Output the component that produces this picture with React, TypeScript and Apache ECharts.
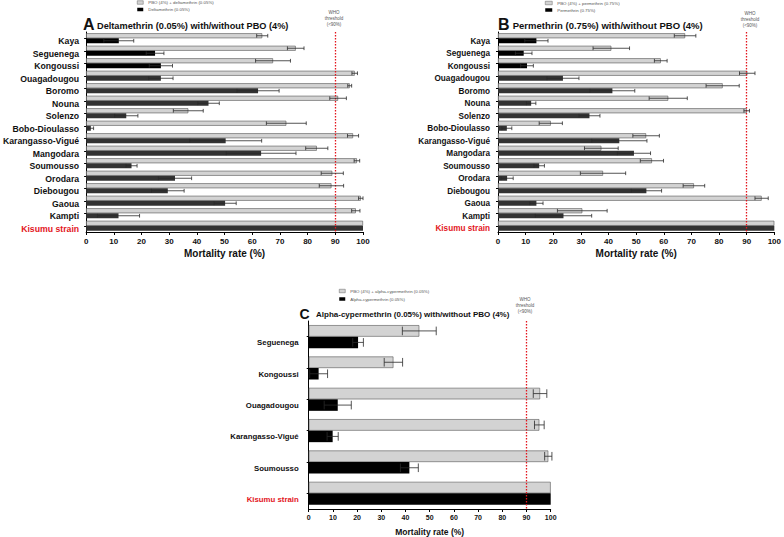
import React, { useEffect, useRef } from 'react';
import * as echarts from 'echarts';

const sitesAB = ['Kaya', 'Seguenega', 'Kongoussi', 'Ouagadougou', 'Boromo', 'Nouna', 'Solenzo', 'Bobo-Dioulasso', 'Karangasso-Vigué', 'Mangodara', 'Soumousso', 'Orodara', 'Diebougou', 'Gaoua', 'Kampti', 'Kisumu strain'];
const sitesC = ['Seguenega', 'Kongoussi', 'Ouagadougou', 'Karangasso-Vigué', 'Soumousso', 'Kisumu strain'];

const pboDelta = [63.6, 75.7, 67.5, 97, 95.2, 91, 36.9, 72.3, 96.4, 83.3, 97.8, 88.9, 88.6, 99.2, 97.4, 100];
const pboDeltaErr = [2, 3, 6.3, 1, 0.7, 3, 5.4, 7.2, 2, 4, 1, 4, 4.4, 0.8, 1.5, 0];
const delta = [11.8, 24.9, 27, 27, 62.1, 44.2, 14.5, 1.7, 50.4, 63.2, 16.4, 32.1, 29.5, 50.2, 11.7, 100];
const deltaErr = [5.4, 3.2, 4.2, 4.4, 7.6, 3.9, 4.2, 1, 13, 12.6, 2, 6, 5.9, 4, 7.6, 0];

const pboPerm = [67.7, 41, 58.9, 90.2, 81.3, 61.6, 90, 19.1, 53.6, 37.4, 55.7, 38, 70.9, 95.4, 30.5, 100];
const pboPermErr = [3.9, 6.6, 2.3, 2.8, 6, 6.9, 1, 4.2, 4.8, 6.1, 4.2, 8.2, 3.9, 2.4, 9, 0];
const perm = [13.9, 9.3, 10.5, 23.5, 41.4, 12, 33.1, 3.2, 43.9, 49.2, 14.9, 3.3, 53.7, 13.9, 23.7, 100];
const permErr = [4.2, 3, 2.3, 5.8, 8.1, 1.7, 3.8, 1.8, 10, 6, 1.9, 2.2, 5.5, 2.4, 10.2, 0];

const pboAlpha = [45.7, 35, 95.6, 95.3, 99, 100];
const pboAlphaErr = [7, 3.8, 2.8, 2, 1.5, 0];
const alpha = [20.4, 4.1, 12, 9.9, 41.6, 100];
const alphaErr = [2.2, 3.7, 5.6, 2.3, 3.7, 0];

const xTicks = { min: 0, max: 100, interval: 10 };
const WHO_THRESHOLD = 90;

const FONT = 'Liberation Sans, Arial, sans-serif';
const GRAY = '#d3d3d3';
const SOLID_BLACK = new Set(['Kaya', 'Seguenega', 'Kongoussi']);

function errRenderer(sign: number, barW: number) {
  return (params: any, api: any) => {
    const v = api.value(0);
    const idx = api.value(1);
    const e = api.value(2);
    if (!e) return null;
    const lo = Math.max(0, v - e);
    const hi = v + e;
    const c0 = api.coord([lo, idx]);
    const c1 = api.coord([hi, idx]);
    const y = c0[1] + (sign * barW) / 2;
    const h = (barW * 0.75) / 2;
    const st = { stroke: '#2a2a2a', lineWidth: 0.8 };
    const children: any[] = [
      { type: 'line', shape: { x1: c0[0], y1: y, x2: c1[0], y2: y }, style: st },
      { type: 'line', shape: { x1: c1[0], y1: y - h, x2: c1[0], y2: y + h }, style: st },
    ];
    if (v - e > 0) children.push({ type: 'line', shape: { x1: c0[0], y1: y - h, x2: c0[0], y2: y + h }, style: st });
    return { type: 'group', children };
  };
}

function panel(
  gi: number,
  sites: string[],
  gray: number[],
  grayErr: number[],
  dark: number[],
  darkErr: number[],
  grayName: string,
  darkName: string,
  barW: number,
  solidAll: boolean
) {
  const series: any[] = [
    {
      type: 'bar',
      name: grayName,
      xAxisIndex: gi,
      yAxisIndex: gi,
      data: gray,
      barWidth: barW,
      barGap: '0%',
      itemStyle: { color: GRAY, borderColor: '#555', borderWidth: 0.6 },
      markLine: {
        silent: true,
        symbol: 'none',
        label: { show: false },
        lineStyle: { color: '#e3151c', type: [1.4, 1.6], width: 1.3 },
        data: [{ xAxis: WHO_THRESHOLD }],
      },
    },
    {
      type: 'bar',
      name: darkName,
      xAxisIndex: gi,
      yAxisIndex: gi,
      data: dark.map((v, i) => ({
        value: v,
        itemStyle: { color: solidAll || SOLID_BLACK.has(sites[i]) ? '#000' : '#333' },
      })),
      barWidth: barW,
      barGap: '0%',
      itemStyle: { color: '#000' },
    },
    {
      type: 'custom',
      xAxisIndex: gi,
      yAxisIndex: gi,
      z: 5,
      encode: { x: 0, y: 1 },
      data: gray.map((v, i) => [v, i, grayErr[i]]),
      renderItem: errRenderer(-1, barW),
    },
    {
      type: 'custom',
      xAxisIndex: gi,
      yAxisIndex: gi,
      z: 5,
      encode: { x: 0, y: 1 },
      data: dark.map((v, i) => [v, i, darkErr[i]]),
      renderItem: errRenderer(1, barW),
    },
  ];
  return series;
}

function xAxis(gi: number, labelSize: number, nameSize: number, nameGap: number) {
  return {
    type: 'value',
    gridIndex: gi,
    ...xTicks,
    name: 'Mortality rate (%)',
    nameLocation: 'middle',
    nameGap,
    nameTextStyle: { fontSize: nameSize, fontWeight: 'bold', color: '#111', fontFamily: FONT },
    axisLine: { show: true, lineStyle: { color: '#000', width: 1 } },
    axisTick: { show: true, length: 3, lineStyle: { color: '#000' } },
    axisLabel: { fontSize: labelSize, fontWeight: 'bold', color: '#111', fontFamily: FONT, margin: 5 },
    splitLine: { show: false },
  };
}

function yAxis(gi: number, sites: string[], fontSize: number, margin: number, shift: number) {
  return {
    type: 'category',
    gridIndex: gi,
    data: sites,
    inverse: true,
    axisLine: { show: true, lineStyle: { color: '#000', width: 1 } },
    axisTick: { show: true, alignWithLabel: true, length: 2, lineStyle: { color: '#000' } },
    axisLabel: {
      fontSize,
      fontWeight: 'bold',
      fontFamily: FONT,
      margin,
      interval: 0,
      verticalAlign: 'top',
      lineHeight: shift * 2,
      color: (v: string) => (v === 'Kisumu strain' ? '#e3151c' : '#111'),
    },
  };
}

function txt(x: number, y: number, text: string, fontSize: number, bold: boolean, align: string, color = '#111') {
  return {
    type: 'text',
    x,
    y,
    style: {
      text,
      fontSize,
      fontWeight: bold ? 'bold' : 'normal',
      fontFamily: FONT,
      fill: color,
      textAlign: align,
      textVerticalAlign: 'middle',
    },
  };
}

function who(x: number, y: number, size: number, gap: number) {
  return [
    txt(x, y, 'WHO', size, false, 'center', '#555'),
    txt(x, y + gap, 'threshold', size, false, 'center', '#555'),
    txt(x, y + gap * 2, '(<90%)', size, false, 'center', '#555'),
  ];
}

export default function App() {
  const ref = useRef<HTMLDivElement>(null);
  useEffect(() => {
    if (!ref.current) return;
    const chart = echarts.init(ref.current, undefined, { renderer: 'svg' });
    const nA = ['PBO (4%) + deltamethrin (0.05%)', 'Deltamethrin (0.05%)'];
    const nB = ['PBO (4%) + permethrin (0.75%)', 'Permethrin (0.75%)'];
    const nC = ['PBO (4%) + alpha-cypermethrin (0.05%)', 'Alpha-cypermethrin (0.05%)'];
    const legend = (names: string[], left: number, top: number, size: number, gap: number, iw: number, ih: number) => ({
      data: [
        { name: names[0], itemStyle: { color: GRAY, borderColor: '#666', borderWidth: 0.5 } },
        { name: names[1], itemStyle: { color: '#000', borderWidth: 0 } },
      ],
      orient: 'vertical',
      left,
      top,
      padding: 0,
      itemWidth: iw,
      itemHeight: ih,
      itemGap: gap,
      icon: 'rect',
      selectedMode: false,
      textStyle: { fontSize: size, color: '#555', fontFamily: FONT },
    });
    chart.setOption({
      animation: false,
      backgroundColor: '#fff',
      grid: [
        { left: 84, top: 32, width: 279, height: 200 },
        { left: 498, top: 32, width: 279.7, height: 200 },
        { left: 308.7, top: 321, width: 242, height: 188.5 },
      ],
      xAxis: [xAxis(0, 8, 10, 16), xAxis(1, 8, 10, 16), xAxis(2, 7, 8.5, 18)],
      yAxis: [yAxis(0, sitesAB, 8.7, 7, 3), yAxis(1, sitesAB, 8.2, 8, 3), yAxis(2, sitesC, 7.8, 10, 6)],
      legend: [
        legend(nA, 137, 0.5, 4.4, 3, 6, 3.5),
        legend(nB, 545, 1, 4.4, 3, 7, 3.5),
        legend(nC, 339, 289, 4.4, 4, 6, 3.5),
      ],
      series: [
        ...panel(0, sitesAB, pboDelta, pboDeltaErr, delta, deltaErr, nA[0], nA[1], 5, false),
        ...panel(1, sitesAB, pboPerm, pboPermErr, perm, permErr, nB[0], nB[1], 5, false),
        ...panel(2, sitesC, pboAlpha, pboAlphaErr, alpha, alphaErr, nC[0], nC[1], 11.5, true),
      ],
      graphic: [
        txt(83, 24.5, 'A', 16, true, 'left'),
        txt(97, 25.5, 'Deltamethrin (0.05%) with/without PBO (4%)', 9.2, true, 'left'),
        txt(498, 24.5, 'B', 16, true, 'left'),
        txt(512.7, 25.5, 'Permethrin (0.75%) with/without PBO (4%)', 9.5, true, 'left'),
        txt(299.5, 314, 'C', 14, true, 'left'),
        txt(316, 314, 'Alpha-cypermethrin (0.05%) with/without PBO (4%)', 8, true, 'left'),
        ...who(334, 12.3, 4.5, 5.9),
        ...who(750, 13.3, 4.5, 5.9),
        ...who(525, 299, 4.5, 6),
      ],
    });
    return () => chart.dispose();
  }, []);
  return <div ref={ref} style={{ position: 'fixed', left: 0, top: 0, width: 784, height: 537 }} />;
}
